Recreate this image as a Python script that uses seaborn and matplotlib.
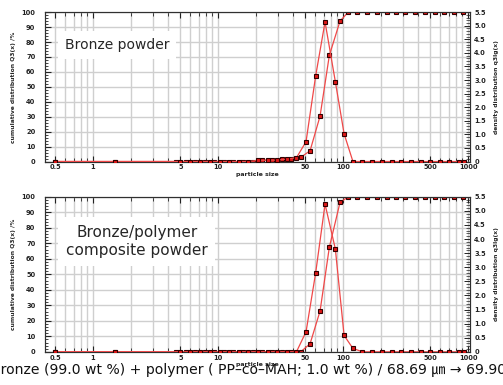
import matplotlib
matplotlib.use('Agg')
import matplotlib.pyplot as plt
import matplotlib.ticker as ticker
import seaborn as sns

# particle size channels (um): density at channel centres, cumulative at upper edges
density_x = [0.5, 1.5, 5.0, 6.0, 7.2, 8.6, 10.3, 12.2, 14.6, 17.5, 20.8, 24.9, 29.7, 35.5, 42.4,
             50.6, 60.4, 71.8, 86.8, 102, 120, 143, 171, 205, 245, 292, 350, 417, 499, 597, 708, 847, 920]
cumul_x = [0.5, 1.5, 4.6, 5.5, 6.5, 7.8, 9.3, 11.1, 13.2, 15.8, 18.9, 22.6, 27.0, 32.2, 38.4, 45.9,
           54.5, 65.5, 77.7, 94.6, 110, 130, 156, 187, 224, 266, 316, 378, 453, 541, 646, 776, 916]

# Bronze powder
top_density = [0, 0, 0, 0, 0, 0, 0, 0, 0, 0, 0.04, 0.05, 0.05, 0.09, 0.14,
               0.73, 3.15, 5.14, 2.94, 1.02, 0, 0, 0, 0, 0, 0, 0, 0, 0, 0, 0, 0, 0]
top_cumul = [0, 0, 0, 0, 0, 0, 0, 0, 0, 0, 0, 0.8, 1.0, 1.4, 1.9, 2.8,
             7.2, 30.4, 71.0, 94.0, 100, 100, 100, 100, 100, 100, 100, 100, 100, 100, 100, 100, 100]

# Bronze/polymer composite powder
bot_density = [0, 0, 0, 0, 0, 0, 0, 0, 0, 0, 0, 0, 0, 0, 0,
               0.71, 2.80, 5.24, 3.65, 0.58, 0.12, 0, 0, 0, 0, 0, 0, 0, 0, 0, 0, 0, 0]
bot_cumul = [0, 0, 0, 0, 0, 0, 0, 0, 0, 0, 0, 0, 0, 0, 0, 0,
             5.2, 26.3, 67.4, 96.4, 100, 100, 100, 100, 100, 100, 100, 100, 100, 100, 100, 100, 100]

panel_titles = ['Bronze powder', 'Bronze/polymer\ncomposite powder']
caption = 'Bronze (99.0 wt %) + polymer ( PP\u2013co\u2013MAH; 1.0 wt %) / 68.69 \u339b \u2192 69.90 \u339b'

x_ticks = [0.5, 1, 5, 10, 50, 100, 500, 1000]
x_tick_labels = ['0.5', '1', '5', '10', '50', '100', '500', '1000']

sns.set_style('white')
plt.rcParams['font.family'] = ['DejaVu Sans', 'Noto Sans CJK KR']

line_c = '#f04848'
mk = dict(marker='s', markersize=3.4, markerfacecolor='#e01818',
          markeredgecolor='#300000', markeredgewidth=0.8)

fig = plt.figure(figsize=(5.03, 3.85), dpi=100)
ax_top = fig.add_axes([0.0895, 0.5805, 0.845, 0.388])
ax_bot = fig.add_axes([0.0895, 0.0862, 0.845, 0.4026])


def draw_panel(ax, dens, cum, title, fs, tx, ty):
    ax2 = ax.twinx()
    sns.lineplot(x=cumul_x, y=cum, ax=ax, color=line_c, lw=0.9, zorder=3, **mk)
    sns.lineplot(x=density_x, y=dens, ax=ax2, color=line_c, lw=0.9, zorder=3, **mk)

    ax.set_xscale('log')
    ax.set_xlim(0.413, 1038)
    ax.set_ylim(0, 100)
    ax2.set_ylim(0, 5.5)

    ax.set_xticks(x_ticks)
    ax.set_xticklabels(x_tick_labels)
    ax.xaxis.set_minor_locator(ticker.LogLocator(base=10, subs=range(2, 10), numticks=20))
    ax.xaxis.set_minor_formatter(ticker.NullFormatter())
    ax.yaxis.set_major_locator(ticker.MultipleLocator(10))
    ax.yaxis.set_minor_locator(ticker.MultipleLocator(2))
    ax2.yaxis.set_major_locator(ticker.MultipleLocator(0.5))
    ax2.yaxis.set_minor_locator(ticker.MultipleLocator(0.1))
    ax2.yaxis.set_major_formatter(ticker.FuncFormatter(lambda v, p: '0' if v == 0 else '%.1f' % v))

    ax.grid(True, which='both', axis='x', color='#cfcfcf', lw=1.0)
    ax.grid(True, which='major', axis='y', color='#cfcfcf', lw=1.0)
    ax.set_axisbelow(True)

    ax.tick_params(axis='x', which='both', direction='in', top=True, bottom=True,
                   labelsize=4.8, pad=2, colors='#222222')
    ax.tick_params(axis='x', which='major', length=4, width=0.8)
    ax.tick_params(axis='x', which='minor', length=3, width=0.6)
    ax.tick_params(axis='y', which='both', direction='in', left=True, right=False,
                   labelsize=4.8, pad=7, colors='#222222')
    ax.tick_params(axis='y', which='major', length=4, width=0.8)
    ax.tick_params(axis='y', which='minor', length=2.5, width=0.6)
    ax2.tick_params(axis='y', which='both', direction='in', right=True,
                    labelsize=4.8, pad=3, colors='#222222')
    ax2.tick_params(axis='y', which='major', length=4, width=0.7)
    ax2.tick_params(axis='y', which='minor', length=3, width=0.5)
    for lab in ax.get_xticklabels() + ax.get_yticklabels() + ax2.get_yticklabels():
        lab.set_fontweight('bold')

    for a in (ax, ax2):
        for s in a.spines.values():
            s.set_color('#303030')
            s.set_linewidth(0.8)

    ax.set_xlabel('particle size', fontsize=4.5, fontweight='bold', labelpad=1)
    ax.set_ylabel('cumulative distribution Q3(x) /%', fontsize=4.3, fontweight='bold', labelpad=4)
    ax2.set_ylabel('density distribution q3lg(x)', fontsize=4.3, fontweight='bold', labelpad=6)

    ax.text(tx, ty, title, transform=ax.transAxes, ha='center', va='center',
            fontsize=fs, linespacing=1.25, zorder=5,
            bbox=dict(boxstyle='square,pad=0.5', facecolor='white', edgecolor='none'))


draw_panel(ax_top, top_density, top_cumul, panel_titles[0], 10, 0.169, 0.78)
draw_panel(ax_bot, bot_density, bot_cumul, panel_titles[1], 11, 0.216, 0.711)

cap = fig.text(0.512, 0.039, caption, ha='center', va='center', fontsize=10, color='#111111')
fig.canvas.draw()
w = cap.get_window_extent().width
cap.set_fontsize(10 * 535 / w)

fig.savefig('out.png', dpi=100)
